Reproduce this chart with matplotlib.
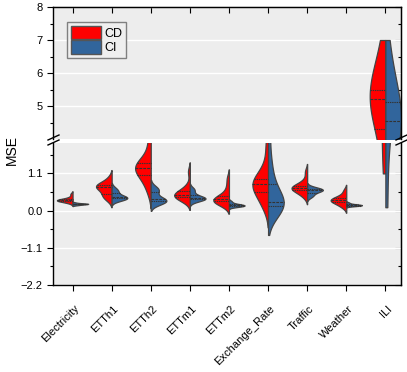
import numpy as np
import pandas as pd
import matplotlib
matplotlib.use("Agg")
import matplotlib.pyplot as plt
import matplotlib.transforms as mtransforms
import seaborn as sns
from matplotlib.patches import Patch
from matplotlib.lines import Line2D

plt.rcParams['font.family'] = ['Liberation Sans', 'DejaVu Sans']

datasets = ["Electricity", "ETTh1", "ETTh2", "ETTm1", "ETTm2",
            "Exchange_Rate", "Traffic", "Weather", "ILI"]

# MSE values per dataset, CD = channel dependent, CI = channel independent
electricity_cd = [0.23, 0.26, 0.28, 0.29, 0.30, 0.31, 0.31, 0.32, 0.33, 0.35, 0.40, 0.49]
electricity_ci = [0.16, 0.17, 0.18, 0.19, 0.19, 0.20, 0.20, 0.20, 0.21, 0.21, 0.22, 0.24]
etth1_cd = [0.33, 0.40, 0.45, 0.52, 0.62, 0.68, 0.70, 0.72, 0.75, 0.78, 0.82, 0.97]
etth1_ci = [0.30, 0.33, 0.35, 0.36, 0.37, 0.38, 0.40, 0.42, 0.45, 0.52, 0.58, 0.60, 0.68]
etth2_cd = [0.55, 0.80, 0.95, 1.05, 1.15, 1.22, 1.27, 1.30, 1.35, 1.42, 1.48, 1.75, 2.10]
etth2_ci = [0.20, 0.24, 0.27, 0.28, 0.30, 0.32, 0.34, 0.38, 0.55, 0.60, 0.62, 0.70]
ettm1_cd = [0.30, 0.35, 0.38, 0.42, 0.45, 0.46, 0.48, 0.50, 0.55, 0.62, 0.75, 1.15]
ettm1_ci = [0.29, 0.32, 0.34, 0.35, 0.36, 0.37, 0.39, 0.42, 0.50, 0.60, 0.65]
ettm2_cd = [0.18, 0.22, 0.25, 0.28, 0.30, 0.32, 0.34, 0.36, 0.42, 0.50, 0.70, 0.95]
ettm2_ci = [0.11, 0.12, 0.13, 0.14, 0.15, 0.16, 0.16, 0.17, 0.18, 0.20, 0.23, 0.28]
exchange_cd = [0.10, 0.25, 0.45, 0.55, 0.65, 0.75, 0.80, 0.85, 0.90, 0.95, 1.10, 1.45, 2.00]
exchange_ci = [0.05, 0.08, 0.10, 0.12, 0.15, 0.17, 0.20, 0.25, 0.35, 0.50, 0.70, 0.90, 1.20, 1.60, 2.30]
traffic_cd = [0.42, 0.50, 0.58, 0.62, 0.65, 0.67, 0.68, 0.70, 0.72, 0.78, 0.90, 1.15]
traffic_ci = [0.40, 0.45, 0.50, 0.55, 0.58, 0.60, 0.61, 0.62, 0.64, 0.66, 0.70]
weather_cd = [0.10, 0.17, 0.22, 0.26, 0.28, 0.30, 0.32, 0.34, 0.36, 0.40, 0.47, 0.60]
weather_ci = [0.13, 0.14, 0.15, 0.15, 0.16, 0.16, 0.17, 0.17, 0.18, 0.19, 0.21, 0.24]
ili_cd = [1.1, 2.0, 2.9, 3.7, 4.3, 4.7, 4.9, 5.1, 5.2, 5.3, 5.35, 5.4, 5.5, 5.7, 6.0, 6.4, 7.0]
ili_ci = [0.1, 1.9, 2.8, 3.3, 3.7, 4.0, 4.3, 4.5, 4.6, 4.7, 4.9, 5.1, 5.2, 5.6, 6.2, 7.0]

groups = ["CD", "CI"]
colors = {"CD": "#ff0000", "CI": "#31659c"}

top_ticks = [5, 6, 7, 8]
top_minor = [4.5, 5.5, 6.5, 7.5]
bottom_ticks = [-2.2, -1.1, 0.0, 1.1]
bottom_labels = ["\u22122.2", "\u22121.1", "0.0", "1.1"]
bottom_minor = [-1.65, -0.55, 0.55, 1.65]

pairs = [(electricity_cd, electricity_ci), (etth1_cd, etth1_ci), (etth2_cd, etth2_ci),
         (ettm1_cd, ettm1_ci), (ettm2_cd, ettm2_ci), (exchange_cd, exchange_ci),
         (traffic_cd, traffic_ci), (weather_cd, weather_ci), (ili_cd, ili_ci)]
rows = []
for name, (cd, ci) in zip(datasets, pairs):
    rows += [(name, "CD", v) for v in cd]
    rows += [(name, "CI", v) for v in ci]
df = pd.DataFrame(rows, columns=["dataset", "group", "mse"])

fig = plt.figure(figsize=(4.07, 3.72), dpi=100)
W, H = 407, 372
ax_top = fig.add_axes([53 / W, 1 - 139 / H, 348 / W, 132 / H])
ax_bot = fig.add_axes([53 / W, 1 - 285 / H, 348 / W, 142 / H])

bg = "#ededed"
for ax in (ax_top, ax_bot):
    ax.set_facecolor(bg)
    ax.set_axisbelow(True)
    # one call per dataset so every half is scaled to its own max width
    for name in datasets:
        sub = df[df.dataset == name]
        sns.violinplot(data=sub, x="dataset", y="mse", hue="group", order=datasets,
                       hue_order=groups, split=True, inner="quart", palette=colors,
                       saturation=1, linecolor="#444444", linewidth=0.9,
                       density_norm="width", common_norm=False,
                       cut=0 if name == "ILI" else 2, width=0.8,
                       inner_kws=dict(color="#333333", linewidth=0.8),
                       legend=False, ax=ax)
    ax.set_xlim(-0.5, 8.4)
    ax.set_xlabel("")
    ax.set_ylabel("")
    ax.yaxis.grid(True, color="white", linewidth=1)
    ax.xaxis.grid(False)
    for s in ax.spines.values():
        s.set_linewidth(1)
        s.set_color("black")
    ax.tick_params(axis="both", which="major", direction="out", length=4, width=0.8,
                   labelsize=8, color="black")
    ax.tick_params(axis="both", which="minor", direction="out", length=2.5, width=0.8)

# top panel
ax_top.set_ylim(4.0, 8.0)
ax_top.set_yticks(top_ticks)
ax_top.set_yticks(top_minor, minor=True)
ax_top.spines["bottom"].set_visible(False)
ax_top.tick_params(axis="x", bottom=False, labelbottom=False)
sec = ax_top.secondary_xaxis("top")
sec.set_xticks(range(len(datasets)))
sec.set_xticklabels([])
sec.tick_params(direction="in", length=4, width=0.8)
sr = ax_top.secondary_yaxis("right")
sr.set_yticks(top_ticks)
sr.set_yticks(top_minor, minor=True)
sr.set_yticklabels([])
sr.tick_params(which="major", direction="in", length=4, width=0.8)
sr.tick_params(which="minor", direction="in", length=2.5, width=0.8)

# bottom panel
ax_bot.set_ylim(-2.2, 2.0)
ax_bot.set_yticks(bottom_ticks, bottom_labels)
ax_bot.set_yticks(bottom_minor, minor=True)
ax_bot.spines["top"].set_visible(False)
ax_bot.set_xticks(range(len(datasets)))
ax_bot.set_xticklabels(datasets, rotation=45, ha="right", va="center",
                       rotation_mode="anchor", fontsize=8)
ax_bot.tick_params(axis="x", pad=6)
shift = mtransforms.ScaledTranslation(0.05, -0.08, fig.dpi_scale_trans)
for lab in ax_bot.get_xticklabels():
    lab.set_transform(lab.get_transform() + shift)
sr2 = ax_bot.secondary_yaxis("right")
sr2.set_yticks(bottom_ticks)
sr2.set_yticks(bottom_minor, minor=True)
sr2.set_yticklabels([])
sr2.tick_params(which="major", direction="in", length=4, width=0.8)
sr2.tick_params(which="minor", direction="in", length=2.5, width=0.8)

# break marks
for x0 in (48, 396):
    for y0 in (140, 145):
        fig.add_artist(Line2D([x0 / W, (x0 + 11) / W], [1 - y0 / H, 1 - (y0 - 5) / H],
                              color="black", linewidth=1))

handles = [Patch(facecolor=colors[g], edgecolor="#555555", linewidth=1) for g in groups]
leg = ax_top.legend(handles, groups, loc="upper left", bbox_to_anchor=(0.04, 0.886),
                    borderaxespad=0, fontsize=9, handlelength=2.4, handleheight=1.3,
                    labelspacing=0.05, handletextpad=0.3, borderpad=0.3,
                    fancybox=False, framealpha=1)
leg.get_frame().set_edgecolor("#808080")
leg.get_frame().set_facecolor("#efefef")

fig.text(0.028, 1 - 150 / H, "MSE", rotation=90, va="center", ha="center", fontsize=10)

fig.savefig("out.png", dpi=100)
